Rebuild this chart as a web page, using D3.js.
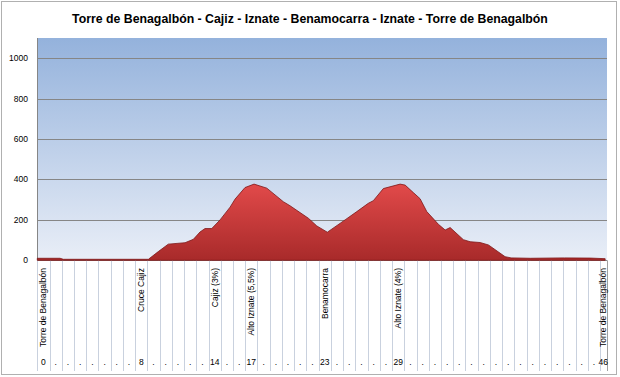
<!DOCTYPE html>
<html>
<head>
<meta charset="utf-8">
<title>perfil</title>
<script src="https://cdn.jsdelivr.net/npm/d3@7"></script>
<style>
  body{margin:0;background:#fff;}
  text{font-family:"Liberation Sans",Arial,sans-serif;fill:#000;}
</style>
</head>
<body>
<script>
var title = "Torre de Benagalbón - Cajiz - Iznate - Benamocarra - Iznate - Torre de Benagalbón"

// perfil: km y altitud (m)
var km = [0, 1.86, 2.13, 9.08, 9.89, 10.71, 12.08, 12.76, 13.3, 13.71,
          14.26, 14.94, 15.76, 16.17, 16.98, 17.72, 18.76, 20.11, 20.66, 22.16,
          22.85, 23.71, 25.16, 26.12, 27.06, 27.47, 28.29, 29.66, 30.07, 30.74,
          31.29, 31.84, 32.79, 33.34, 33.75, 34.83, 35.38, 36.2, 36.88, 38.24,
          38.73, 40.3, 43.1, 45.2, 46.42]
var altitud = [10, 10, 5, 5, 43, 80, 87, 104, 140, 157,
               157, 200, 263, 303, 360, 377, 357, 290, 270, 208,
               170, 139, 200, 241, 282, 295, 355, 377, 372, 335,
               305, 241, 178, 150, 162, 102, 92, 88, 76, 18,
               12, 10, 12, 11, 8]

// etiquetas del eje x
var kmMarcados = [0, 8, 14, 17, 23, 29, 46]
var nombres = ["Torre de Benagalbón", "Cruce Cajiz", "Cajiz (3%)", "Alto Iznate (5,5%)",
               "Benamocarra", "Alto Iznate (4%)", "Torre de Benagalbón"]
var yTicks = [0, 200, 400, 600, 800, 1000]

drawProfile()

function drawProfile(){
  var w = 620, h = 377
  var svg = d3.select("body").append("svg").attr("width", w).attr("height", h)

  var pLeft = 37, pRight = 607, pTop = 38, pBottom = 260.3

  var x = d3.scaleLinear().domain([0, 46]).range([37.3, 600])
  var y = d3.scaleLinear().domain([0, 1100]).range([pBottom, pTop])

  var defs = svg.append("defs")
  var gBlue = defs.append("linearGradient").attr("id", "fondo").attr("x1", 0).attr("y1", 0).attr("x2", 0).attr("y2", 1)
  gBlue.append("stop").attr("offset", "0%").attr("stop-color", "#94b2dc")
  gBlue.append("stop").attr("offset", "100%").attr("stop-color", "#e9eef7")
  var gRed = defs.append("linearGradient").attr("id", "rojo")
    .attr("gradientUnits", "userSpaceOnUse").attr("x1", 0).attr("x2", 0).attr("y1", y(380)).attr("y2", pBottom)
  gRed.append("stop").attr("offset", "0%").attr("stop-color", "#e24a4a")
  gRed.append("stop").attr("offset", "100%").attr("stop-color", "#a82a2a")

  // marco exterior
  svg.append("rect").attr("x", 1.5).attr("y", 1.5).attr("width", 615).attr("height", 373)
    .attr("fill", "#fff").attr("stroke", "#b0b0b0")

  // titulo
  svg.append("text").attr("x", 310).attr("y", 23).attr("text-anchor", "middle")
    .style("font-size", "12.3px").style("font-weight", "bold").text(title)

  // fondo del area de trazado
  svg.append("rect").attr("x", pLeft).attr("y", pTop).attr("width", pRight - pLeft).attr("height", pBottom - pTop)
    .attr("fill", "url(#fondo)")

  // lineas horizontales
  svg.selectAll(".grid").data(yTicks).enter().append("line")
    .attr("x1", pLeft).attr("x2", pRight)
    .attr("y1", function(d){ return Math.round(y(d)) + 0.5 })
    .attr("y2", function(d){ return Math.round(y(d)) + 0.5 })
    .attr("stroke", "#868686").attr("stroke-width", 1)

  svg.selectAll(".ylab").data(yTicks).enter().append("text")
    .attr("x", 28).attr("y", function(d){ return y(d) }).attr("dy", "0.35em")
    .attr("text-anchor", "end").style("font-size", "8.5px").text(function(d){ return d })

  // lineas de categoria bajo el eje
  var cats = d3.range(0, 47)
  svg.selectAll(".cat").data(cats).enter().append("line")
    .attr("x1", function(d){ return Math.round(x(d)) + 0.5 })
    .attr("x2", function(d){ return Math.round(x(d)) + 0.5 })
    .attr("y1", pBottom).attr("y2", 371)
    .attr("stroke", "#c9d1de")
  svg.append("line").attr("x1", pRight + 0.5).attr("x2", pRight + 0.5).attr("y1", pBottom).attr("y2", 371)
    .attr("stroke", "#a0a0a0")
  svg.append("line").attr("x1", pLeft + 0.5).attr("x2", pLeft + 0.5).attr("y1", pTop).attr("y2", pBottom)
    .attr("stroke", "#868686")

  // perfil
  var datos = km.map(function(k, i){ return {km: k, alt: altitud[i]} })
  var area = d3.area()
    .x(function(d){ return x(d.km) })
    .y0(pBottom)
    .y1(function(d){ return y(d.alt) })
  svg.append("path").datum(datos).attr("d", area)
    .attr("fill", "url(#rojo)").attr("stroke", "#7e1717").attr("stroke-width", 0.8)
    .attr("stroke-linejoin", "round")

  // etiquetas numericas y puntos
  function cx(i){ return Math.min(x(i) + 6.1, 603.3) }
  svg.selectAll(".num").data(cats).enter().append("text")
    .attr("x", function(d){ return cx(d) }).attr("y", 365)
    .attr("text-anchor", "middle").style("font-size", "8.5px")
    .text(function(d){ return kmMarcados.indexOf(d) >= 0 ? d : "." })

  // nombres girados
  svg.selectAll(".nom").data(nombres).enter().append("text")
    .attr("transform", function(d, i){ return "translate(" + cx(kmMarcados[i]) + ",268) rotate(-90)" })
    .attr("dy", "0.35em").attr("text-anchor", "end").style("font-size", "8.5px")
    .text(function(d){ return d })
}
</script>
</body>
</html>
